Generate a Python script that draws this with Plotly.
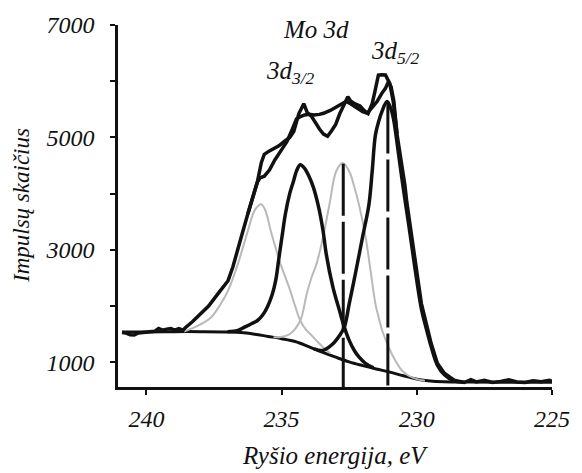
import plotly.graph_objects as go

# ---- Mo 3d XPS spectrum, binding energy (eV) vs. counts ----

# measured spectrum
exp_E = [240.9, 240.75, 240.6, 240.45, 240.3, 240.1, 239.9, 239.7, 239.55, 239.4,
         239.25, 239.1, 238.95, 238.8, 238.65, 238.55, 238.3, 237.96, 237.7, 237.35,
         236.98, 236.8, 236.62, 236.45, 236.25, 236.05, 235.89, 235.75, 235.64, 235.45,
         235.27, 235.1, 234.9, 234.7, 234.55, 234.36, 234.18, 234.05, 233.9, 233.75,
         233.6, 233.45, 233.3, 233.15, 233.0, 232.85, 232.7, 232.55, 232.45, 232.3,
         232.1, 231.95, 231.8, 231.65, 231.55, 231.42, 231.3, 231.16, 231.0, 230.87,
         230.73, 230.56, 230.44, 230.37, 230.19, 230.01, 229.83, 229.65, 229.47, 229.24,
         228.98, 228.62, 228.25, 228.0, 227.8, 227.5, 227.2, 226.9, 226.6, 226.3,
         226.0, 225.7, 225.4, 225.1, 225.0]
exp_I = [1530, 1520, 1490, 1485, 1520, 1530, 1540, 1550, 1600, 1570,
         1590, 1600, 1570, 1600, 1570, 1620, 1720, 1867, 2000, 2221,
         2451, 2700, 3035, 3300, 3637, 3950, 4221, 4550, 4700, 4760,
         4805, 4850, 4929, 5000, 5106, 5425, 5600, 5440, 5380, 5250,
         5150, 5060, 5020, 5120, 5230, 5420, 5584, 5725, 5650, 5600,
         5560, 5480, 5425, 5600, 5814, 6110, 6115, 6110, 5962, 5637,
         5053, 4550, 4150, 3850, 3218, 2628, 2044, 1690, 1336, 982,
         805, 681, 640, 690, 650, 680, 640, 660, 690, 650,
         640, 670, 655, 680, 660]

# fitted envelope (sum of components + background)
fit_E = [236.25, 236.1, 235.9, 235.8, 235.64, 235.45, 235.25, 235.04, 234.8, 234.6,
         234.45, 234.3, 234.15, 234.0, 233.8, 233.6, 233.45, 233.2, 233.0, 232.8,
         232.62, 232.45, 232.2, 232.0, 231.83, 231.65, 231.47, 231.3, 231.16, 231.05,
         230.95, 230.85, 230.73]
fit_I = [3637, 3900, 4200, 4280, 4310, 4420, 4600, 4752, 4929, 5150,
         5330, 5372, 5400, 5410, 5400, 5410, 5430, 5480, 5540, 5600,
         5640, 5600, 5520, 5460, 5430, 5530, 5637, 5780, 5873, 5990,
         5900, 5650, 5053]

# Shirley background
bg_E = [240.9, 240.0, 239.0, 238.0, 237.0, 236.5, 236.0, 235.5, 235.0, 234.5,
        234.0, 233.5, 233.0, 232.5, 232.0, 231.5, 231.0, 230.5, 230.0, 229.5,
        229.0, 228.0, 226.0, 225.0]
bg_I = [1540, 1540, 1545, 1545, 1540, 1530, 1500, 1460, 1420, 1370,
        1280, 1180, 1090, 1006, 940, 880, 825, 760, 700, 665,
        652, 648, 645, 645]

# component A (grey) 3d3/2
c1_E = [238.6, 238.2, 237.9, 237.6, 237.3, 236.98, 236.62, 236.25, 236.01, 235.85,
        235.75, 235.6, 235.4, 235.2, 235.04, 234.85, 234.68, 234.5, 234.31, 234.1,
        233.95, 233.7, 233.45, 233.2]
c1_I = [1548, 1625, 1700, 1802, 2000, 2274, 2746, 3336, 3690, 3790,
        3810, 3700, 3336, 3000, 2746, 2500, 2274, 2000, 1743, 1580,
        1508, 1380, 1260, 1160]

# component B (black) 3d3/2
c2_E = [237.0, 236.62, 236.37, 236.1, 235.89, 235.7, 235.53, 235.35, 235.22, 235.1,
        234.98, 234.86, 234.7, 234.56, 234.45, 234.31, 234.15, 233.98, 233.83, 233.65,
        233.47, 233.35, 233.1, 232.86, 232.68, 232.5, 232.3, 232.14, 231.9, 231.6]
c2_I = [1545, 1566, 1625, 1690, 1743, 1840, 1979, 2200, 2451, 2850,
        3250, 3637, 4000, 4221, 4400, 4515, 4450, 4300, 4120, 3800,
        3350, 2929, 2333, 1920, 1625, 1389, 1200, 1094, 980, 900]

# component A (grey) 3d5/2
c3_E = [235.3, 235.04, 234.68, 234.31, 234.07, 233.9, 233.71, 233.47, 233.23, 232.98,
        232.74, 232.5, 232.3, 232.14, 231.89, 231.71, 231.53, 231.4, 231.28, 231.04,
        230.8, 230.56, 230.3, 230.0, 229.7]
c3_I = [1445, 1448, 1508, 1743, 2216, 2500, 2746, 3218, 3808, 4398,
        4545, 4398, 4100, 3808, 3218, 2628, 2038, 1780, 1566, 1271,
        1035, 858, 760, 700, 670]

# component B (black) 3d5/2
c4_E = [233.8, 233.47, 233.1, 232.85, 232.68, 232.5, 232.25, 232.01, 231.77, 231.65,
        231.53, 231.4, 231.29, 231.1, 230.95, 230.85, 230.73, 230.56, 230.44, 230.3,
        230.15, 230.0, 229.83, 229.65, 229.47, 229.24, 228.98, 228.62, 228.3]
c4_I = [1240, 1212, 1330, 1480, 1625, 2038, 2628, 3218, 3808, 4398,
        5046, 5300, 5460, 5637, 5500, 5300, 4900, 4300, 3900, 3450,
        2950, 2450, 1950, 1600, 1280, 950, 780, 670, 650]

# peak positions marked by vertical lines (energy, peak height)
mark_E = [232.72, 231.07]
mark_I = [4530, 5637]

x_ticks = [240, 235, 230, 225]

X_RANGE = [241.05, 225]
Y_RANGE = [560, 7000]

W, H = 582, 473
ML, MR, MT, MB = 118, 21, 23, 86
PW, PH = W - ML - MR, H - MT - MB


def px(xp, yp):
    """pixel position -> paper coordinates"""
    return (xp - ML) / PW, (H - MB - yp) / PH


SERIF = "Liberation Serif"
BLACK = "#111111"
GREY = "#b9b9b9"

fig = go.Figure()

fig.add_trace(go.Scatter(x=bg_E, y=bg_I, mode="lines", line=dict(color=BLACK, width=3, shape="spline")))
fig.add_trace(go.Scatter(x=c1_E, y=c1_I, mode="lines", line=dict(color=GREY, width=2, shape="spline")))
fig.add_trace(go.Scatter(x=c3_E, y=c3_I, mode="lines", line=dict(color=GREY, width=2, shape="spline")))
fig.add_trace(go.Scatter(x=c2_E, y=c2_I, mode="lines", line=dict(color=BLACK, width=3.5, shape="spline")))
fig.add_trace(go.Scatter(x=c4_E, y=c4_I, mode="lines", line=dict(color=BLACK, width=3.5, shape="spline")))
fig.add_trace(go.Scatter(x=fit_E, y=fit_I, mode="lines", line=dict(color=BLACK, width=3.5)))
fig.add_trace(go.Scatter(x=exp_E, y=exp_I, mode="lines", line=dict(color=BLACK, width=3.5)))

for e, top in zip(mark_E, mark_I):
    fig.add_trace(go.Scatter(x=[e, e], y=[top, Y_RANGE[0]], mode="lines",
                             line=dict(color=BLACK, width=3, dash="52px,6px")))

annotations = []


def label(text, xp, yp, size, xanchor="center"):
    ax, ay = px(xp, yp)
    annotations.append(dict(text=text, x=ax, y=ay, xref="paper", yref="paper",
                            xanchor=xanchor, yanchor="middle", showarrow=False,
                            font=dict(family=SERIF, size=size, color=BLACK, style="italic")))


label("Mo 3d", 320, 28, 25)
label("3d<sub>5/2</sub>", 374, 51, 25, xanchor="left")
label("3d<sub>3/2</sub>", 267, 71, 25, xanchor="left")
label("Ryšio energija, eV", 340, 456, 25)

ax, ay = px(19, 205)
annotations.append(dict(text="Impulsų skaičius", x=ax, y=ay, xref="paper", yref="paper",
                        xanchor="center", yanchor="middle", textangle=-90, showarrow=False,
                        font=dict(family=SERIF, size=23, color=BLACK, style="italic")))

tick_font = dict(family=SERIF, size=24, color=BLACK, style="italic")

fig.update_layout(
    width=W, height=H,
    margin=dict(l=ML, r=MR, t=MT, b=MB, pad=0),
    paper_bgcolor="white", plot_bgcolor="white",
    showlegend=False,
    annotations=annotations,
    xaxis=dict(range=X_RANGE, tickvals=x_ticks, ticktext=[str(v) for v in x_ticks],
               showgrid=False, zeroline=False, showline=True, linecolor=BLACK, linewidth=2.5,
               ticks="outside", ticklen=5, tickwidth=2, tickcolor=BLACK,
               ticklabelstandoff=3, tickfont=tick_font),
    yaxis=dict(range=Y_RANGE, tickmode="linear", tick0=1000, dtick=2000,
               showgrid=False, zeroline=False, showline=True, linecolor=BLACK, linewidth=2.5,
               ticks="outside", ticklen=5, tickwidth=2, tickcolor=BLACK,
               ticklabelstandoff=11, tickfont=tick_font,
               minor=dict(tick0=0, dtick=1000, ticks="outside",
                          ticklen=5, tickwidth=2, tickcolor=BLACK, showgrid=False)),
)

fig.write_html("out.html")
